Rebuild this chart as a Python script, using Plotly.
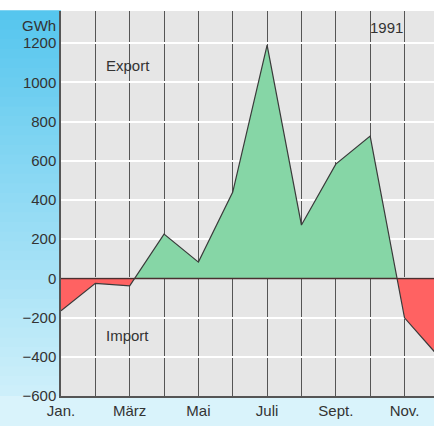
import plotly.graph_objects as go

months = list(range(1, 13))
month_labels = ["Jan.", "", "März", "", "Mai", "", "Juli", "", "Sept.", "", "Nov.", ""]
values = [-165, -25, -38, 226, 83, 440, 1190, 272, 583, 726, -201, -400]
y_ticks = [-600, -400, -200, 0, 200, 400, 600, 800, 1000, 1200]

# insert zero crossings so fills split exactly at 0
xs, ys = [months[0]], [values[0]]
for i in range(1, len(months)):
    x0, y0, x1, y1 = months[i-1], values[i-1], months[i], values[i]
    if (y0 < 0 < y1) or (y0 > 0 > y1):
        xc = x0 + (0 - y0) * (x1 - x0) / (y1 - y0)
        xs.append(xc); ys.append(0)
    xs.append(x1); ys.append(y1)
pos = [max(v, 0) for v in ys]
neg = [min(v, 0) for v in ys]

W, H = 434, 426
ml, mr, mt, mb = 61, 0, 11, 30
pw, ph = W - ml - mr, H - mt - mb

fig = go.Figure()
fig.add_trace(go.Scatter(x=xs, y=pos, mode="lines", line=dict(width=0),
                         fill="tozeroy", fillcolor="#86d6a6", hoverinfo="skip"))
fig.add_trace(go.Scatter(x=xs, y=neg, mode="lines", line=dict(width=0),
                         fill="tozeroy", fillcolor="#ff6262", hoverinfo="skip"))
fig.add_trace(go.Scatter(x=months, y=values, mode="lines",
                         line=dict(color="#3a3a3a", width=1.2)))

shapes = []
# left gradient strip
n = 40
c0 = (86, 198, 238)
c1 = (205, 239, 250)
for k in range(n):
    t = k / (n - 1)
    col = tuple(int(round(c0[j] + (c1[j] - c0[j]) * t)) for j in range(3))
    y_top = 1 - k / n
    y_bot = 1 - (k + 1) / n
    shapes.append(dict(type="rect", xref="paper", yref="paper",
                       x0=-ml / pw, x1=0, y0=y_bot, y1=y_top + 0.002,
                       fillcolor="rgb(%d,%d,%d)" % col, line=dict(width=0), layer="below"))
# bottom strip
shapes.append(dict(type="rect", xref="paper", yref="paper",
                   x0=-ml / pw, x1=1, y0=-mb / ph, y1=0,
                   fillcolor="#d9f3fb", line=dict(width=0), layer="below"))
# zero line
shapes.append(dict(type="line", xref="paper", yref="y", x0=0, x1=1, y0=0, y1=0,
                   line=dict(color="#4a3030", width=1.5), layer="above"))

font = "Liberation Sans, Arial, sans-serif"
fig.update_layout(
    width=W, height=H,
    margin=dict(l=ml, r=mr, t=mt, b=mb, autoexpand=False),
    paper_bgcolor="white", plot_bgcolor="#e6e6e6",
    showlegend=False, shapes=shapes,
    font=dict(family=font, size=15, color="#333333"),
    xaxis=dict(range=[1, 1 + (W - ml) / 34.35], tickvals=months, ticktext=month_labels,
               showgrid=True, gridcolor="#555555", gridwidth=1, zeroline=False,
               showline=True, linecolor="#555555", linewidth=1.5, ticks="",
               automargin=False,
               tickfont=dict(size=15, color="#333333"), fixedrange=True),
    yaxis=dict(range=[-600, 1364], tickvals=y_ticks, showgrid=True, gridcolor="white",
               gridwidth=1.5, zeroline=False, showline=True, linecolor="#555555",
               linewidth=1.5, ticks="", automargin=False,
               tickfont=dict(size=15, color="#333333"), fixedrange=True),
    annotations=[
        dict(text="GWh", xref="paper", x=0, xanchor="right", xshift=-3, yref="y", y=1292,
             showarrow=False, font=dict(size=15, color="#333333")),
        dict(text="Export", x=2.95, y=1088, showarrow=False, font=dict(size=15, color="#333333")),
        dict(text="Import", x=2.95, y=-289, showarrow=False, font=dict(size=15, color="#333333")),
        dict(text="1991", x=10.49, y=1282, showarrow=False, font=dict(size=15, color="#333333")),
    ],
)
fig.write_html("out.html", config={"displayModeBar": False},
               post_script="document.body.style.margin='0px';document.body.style.overflow='hidden';")
